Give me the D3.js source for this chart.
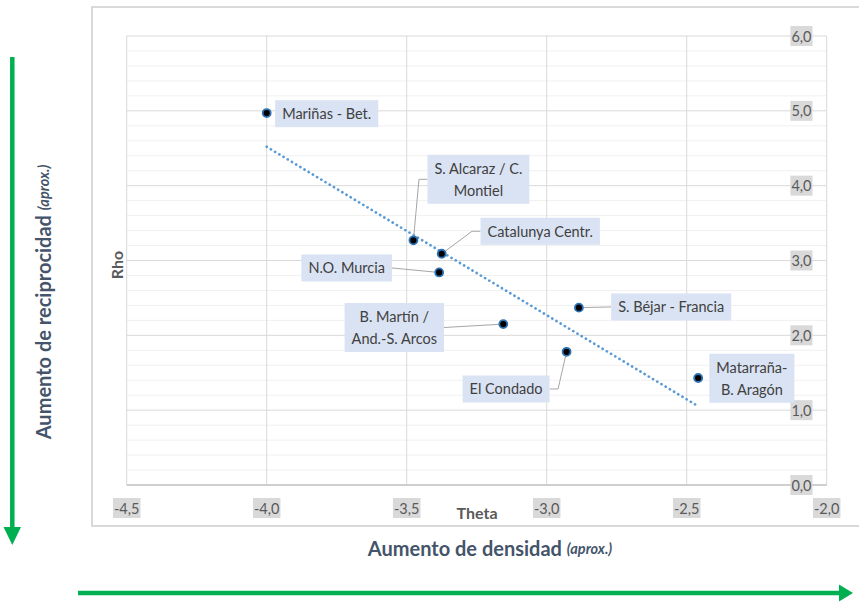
<!DOCTYPE html>
<html><head><meta charset="utf-8">
<script src="https://cdn.jsdelivr.net/npm/d3@7"></script>
<style>
html,body{margin:0;padding:0;background:#fff;}
svg{display:block;}
</style></head>
<body>
<svg id="c" width="859" height="606"></svg>
<script>
// ---- data ----
const regions = ["Mariñas - Bet.", "S. Alcaraz / C.\nMontiel", "Catalunya Centr.", "N.O. Murcia",
  "B. Martín /\nAnd.-S. Arcos", "S. Béjar - Francia", "El Condado", "Matarraña-\nB. Aragón"];
const theta = [-4.00, -3.476, -3.375, -3.384, -3.155, -2.885, -2.929, -2.459];
const rho   = [4.97, 3.27, 3.09, 2.84, 2.15, 2.37, 1.78, 1.43];
const xTicks = [-4.5, -4.0, -3.5, -3.0, -2.5, -2.0];
const yTicks = [0, 1, 2, 3, 4, 5, 6];
const xTitle = "Theta", yTitle = "Rho";
const densTitle = "Aumento de densidad", recTitle = "Aumento de reciprocidad", aprox = "(aprox.)";

// ---- label layout (pixel offsets of box centre from point; leader side) ----
const labelLayout = [
  {dx: 60, dy: 0.6, side: null, elbow: false},
  {dx: 65, dy: -61, side: "left", elbow: true},
  {dx: 98.5, dy: -22.5, side: "left", elbow: true},
  {dx: -92.5, dy: -4.5, side: "right", elbow: false},
  {dx: -109, dy: 3.4, side: "right", elbow: false},
  {dx: 92.3, dy: -0.7, side: "left", elbow: false},
  {dx: -60.5, dy: 37.2, side: "right", elbow: true},
  {dx: 53.7, dy: 0.3, side: null, elbow: false}
];

const fmt = v => d3.format(".1f")(v).replace(".", ",").replace("\u2212", "-");
const svg = d3.select("#c");
const L = 126.7, R = 826.7, T = 36, B = 485;
const x = d3.scaleLinear().domain([-4.5, -2.0]).range([L, R]);
const y = d3.scaleLinear().domain([0, 6]).range([B, T]);

// chart area border
svg.append("rect").attr("x", 92).attr("y", 7).attr("width", 800).attr("height", 519)
  .attr("fill", "#fff").attr("stroke", "#d9d9d9").attr("stroke-width", 2);

// minor horizontal gridlines
const minor = d3.range(0, 6.001, 0.2).filter(v => Math.abs(v - Math.round(v)) > 0.01);
svg.append("g").selectAll("line").data(minor).join("line")
  .attr("x1", L).attr("x2", R).attr("y1", d => y(d)).attr("y2", d => y(d))
  .attr("stroke", "#f0f0f0").attr("stroke-width", 1);
// major horizontal gridlines
svg.append("g").selectAll("line").data(yTicks.filter(d => d > 0)).join("line")
  .attr("x1", L).attr("x2", R).attr("y1", d => y(d)).attr("y2", d => y(d))
  .attr("stroke", "#d9d9d9").attr("stroke-width", 1);
// vertical gridlines
svg.append("g").selectAll("line").data(xTicks).join("line")
  .attr("x1", d => x(d)).attr("x2", d => x(d)).attr("y1", T).attr("y2", B)
  .attr("stroke", "#d9d9d9").attr("stroke-width", 1);
// x axis line
svg.append("line").attr("x1", L).attr("x2", R).attr("y1", B).attr("y2", B)
  .attr("stroke", "#bfbfbf").attr("stroke-width", 1.3);

// tick labels with grey background
function tickLabel(g, tx, ty, txt, anchor) {
  const t = g.append("text").attr("x", tx).attr("y", ty).attr("text-anchor", anchor)
    .attr("dominant-baseline", "central")
    .attr("font-family", "Lato, sans-serif").attr("font-size", 14.5).attr("fill", "#595959").text(txt);
  const bb = t.node().getBBox();
  g.insert("rect", "text").attr("x", bb.x - 1).attr("y", ty - 10).attr("width", bb.width + 2).attr("height", 20)
    .attr("fill", "#d9d9d9");
}
const ytg = svg.append("g");
yTicks.forEach(v => tickLabel(ytg.append("g"), 811.5, y(v), fmt(v), "end"));
const xtg = svg.append("g");
xTicks.forEach(v => tickLabel(xtg.append("g"), x(v), 508, fmt(v), "middle"));

// axis titles
svg.append("text").attr("x", 477).attr("y", 512).attr("dominant-baseline", "central").attr("text-anchor", "middle")
  .attr("font-family", "Lato, sans-serif").attr("font-weight", "bold").attr("font-size", 16).attr("fill", "#595959").text(xTitle);
svg.append("text").attr("transform", "translate(116,265) rotate(-90)").attr("dominant-baseline", "central").attr("text-anchor", "middle")
  .attr("font-family", "Lato, sans-serif").attr("font-weight", "bold").attr("font-size", 16).attr("fill", "#595959").text(yTitle);

// trendline (least squares over the points, drawn across the data's x range)
const mx = d3.mean(theta), my = d3.mean(rho);
const slope = d3.sum(theta.map((t, i) => (t - mx) * (rho[i] - my))) / d3.sum(theta.map(t => (t - mx) ** 2));
const icpt = my - slope * mx;
const [x0, x1] = d3.extent(theta);
svg.append("line").attr("x1", x(x0)).attr("y1", y(icpt + slope * x0)).attr("x2", x(x1)).attr("y2", y(icpt + slope * x1))
  .attr("stroke", "#5b9bd5").attr("stroke-width", 2.7).attr("stroke-dasharray", "0.1 4.8").attr("stroke-linecap", "round");

// labels
const pts = theta.map((t, i) => ({name: regions[i], px: x(t), py: y(rho[i]), lay: labelLayout[i]}));
const lg = svg.append("g");
pts.forEach(p => {
  const cx = p.px + p.lay.dx, cy = p.py + p.lay.dy;
  const lines = p.name.split("\n");
  const lh = 22;
  const g = lg.append("g");
  const t = g.append("text").attr("font-family", "Lato, sans-serif").attr("font-size", 14.5).attr("fill", "#404040")
    .attr("text-anchor", "middle");
  lines.forEach((ln, k) => t.append("tspan").attr("x", cx).attr("y", cy + (k - (lines.length - 1) / 2) * lh)
    .attr("dominant-baseline", "central").text(ln));
  const bb = t.node().getBBox();
  const w = bb.width + 14, h = lines.length * lh + 5;
  g.insert("rect", "text").attr("x", cx - w / 2).attr("y", cy - h / 2).attr("width", w).attr("height", h).attr("fill", "#dae3f3");
  if (p.lay.side) {
    const sx = p.lay.side === "left" ? cx - w / 2 : cx + w / 2;
    const path = [[sx, cy]];
    if (p.lay.elbow) path.push([sx + (p.lay.side === "left" ? -8.5 : 8.5), cy]);
    const last = path[path.length - 1];
    const ddx = p.px - last[0], ddy = p.py - last[1], dl = Math.hypot(ddx, ddy);
    path.push([p.px - ddx / dl * 4.5, p.py - ddy / dl * 4.5]);
    lg.insert("path", "g").attr("d", d3.line()(path)).attr("fill", "none").attr("stroke", "#a6a6a6").attr("stroke-width", 1);
  }
});

// points
svg.append("g").selectAll("circle").data(pts).join("circle")
  .attr("cx", d => d.px).attr("cy", d => d.py).attr("r", 4)
  .attr("fill", "#000").attr("stroke", "#2e75b6").attr("stroke-width", 1.8);

// outer green arrows and titles
const green = "#00b050";
svg.append("line").attr("x1", 12.3).attr("y1", 57).attr("x2", 12.3).attr("y2", 528).attr("stroke", green).attr("stroke-width", 4.5);
svg.append("path").attr("d", d3.line()([[3.5, 527], [21, 527], [12.3, 545]])).attr("fill", green);
svg.append("line").attr("x1", 78).attr("y1", 593).attr("x2", 840).attr("y2", 593).attr("stroke", green).attr("stroke-width", 4.5);
svg.append("path").attr("d", d3.line()([[839, 584.5], [839, 601.5], [853, 593]])).attr("fill", green);

const tt = svg.append("text").attr("x", 490).attr("y", 548).attr("dominant-baseline", "central").attr("text-anchor", "middle")
  .attr("font-family", "Lato, sans-serif").attr("font-weight", "bold").attr("font-size", 20).attr("fill", "#44546a");
tt.append("tspan").text(densTitle + " ");
tt.append("tspan").attr("font-style", "italic").attr("font-size", 14.5).text(aprox);
const ty = svg.append("text").attr("transform", "translate(43,302) rotate(-90)").attr("dominant-baseline", "central").attr("text-anchor", "middle")
  .attr("font-family", "Lato, sans-serif").attr("font-weight", "bold").attr("font-size", 20).attr("fill", "#44546a");
ty.append("tspan").text(recTitle + " ");
ty.append("tspan").attr("font-style", "italic").attr("font-size", 14.5).text(aprox);
</script>
</body></html>
